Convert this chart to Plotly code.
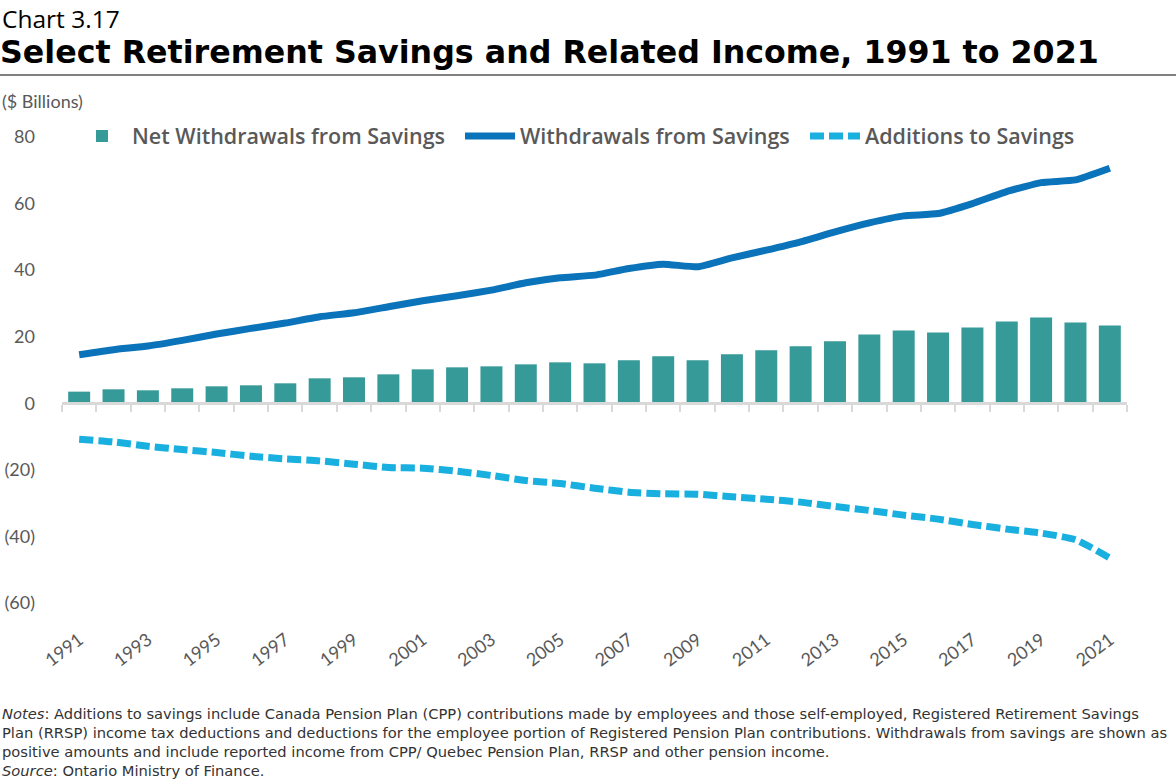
import plotly.graph_objects as go

# data ($ billions)
years = list(range(1991, 2022))
net_withdrawals = [3.5, 4.2, 3.9, 4.5, 5.1, 5.4, 6.0, 7.5, 7.8, 8.7,
                   10.2, 10.8, 11.1, 11.7, 12.3, 12.0, 12.9, 14.1, 12.9, 14.7,
                   15.9, 17.1, 18.6, 20.7, 21.9, 21.3, 22.8, 24.6, 25.8, 24.3, 23.4]
withdrawals = [14.6, 16.1, 17.2, 18.9, 20.8, 22.5, 24.1, 26.0, 27.2, 29.0,
               30.8, 32.3, 34.0, 36.2, 37.7, 38.5, 40.5, 41.8, 41.0, 43.7,
               46.0, 48.5, 51.5, 54.2, 56.3, 57.0, 60.0, 63.6, 66.3, 67.1, 70.6]
additions = [-10.8, -11.6, -12.9, -13.9, -14.8, -15.9, -16.7, -17.3, -18.3, -19.3,
             -19.5, -20.4, -21.7, -23.2, -24.1, -25.5, -26.7, -27.2, -27.3, -28.1,
             -28.8, -29.7, -31.0, -32.2, -33.6, -34.8, -36.4, -37.8, -39.0, -41.0, -46.5]

y_ticks = [-60, -40, -20, 0, 20, 40, 60, 80]
y_labels = ['(60)', '(40)', '(20)', '0', '20', '40', '60', '80']
label_years = years[::2]

W, H = 1176, 783
L, R, T, B = 62, 49, 137, 180
pw, ph = W - L - R, H - T - B


def px2x(px):
    return (px - L) / pw


def py2y(py):
    return (H - B - py) / ph


gray = '#595959'
font = 'Lato'
wide = 'Open Sans'

fig = go.Figure()

fig.add_trace(go.Bar(
    x=years, y=net_withdrawals, name='Net Withdrawals from Savings',
    marker=dict(color='#369A99', line=dict(width=0)), legend='legend',
))
fig.add_trace(go.Scatter(
    x=years, y=withdrawals, name='Withdrawals from Savings', mode='lines',
    line=dict(color='#0A73B9', width=7, shape='spline', smoothing=0.4),
    legend='legend2',
))
fig.add_trace(go.Scatter(
    x=years, y=additions, name='Additions to Savings', mode='lines',
    line=dict(color='#19B0E0', width=7, dash='14px,5px', shape='spline', smoothing=0.6),
    legend='legend3',
))
# carrier trace for the bottom label axis
fig.add_trace(go.Scatter(
    x=years, y=[None] * len(years), xaxis='x2', mode='lines',
    showlegend=False, hoverinfo='skip',
))

xr = [years[0] - 0.5, years[-1] + 0.5]


def legend_at(px):
    return dict(
        orientation='h', xref='container', yref='container',
        x=px / W, y=1 - 136 / H, xanchor='left', yanchor='middle',
        font=dict(family=wide, size=21.5, color=gray, weight=600),
        bgcolor='rgba(0,0,0,0)', itemwidth=50,
    )


fig.update_layout(
    width=W, height=H,
    margin=dict(l=L, r=R, t=T, b=B, autoexpand=False),
    paper_bgcolor='white', plot_bgcolor='white',
    font=dict(family=font, color=gray, size=18),
    bargap=0.36,
    showlegend=True,
    legend=legend_at(72),
    legend2=legend_at(460),
    legend3=legend_at(805),
    xaxis=dict(
        range=xr, anchor='free', position=-y_ticks[0] / (y_ticks[-1] - y_ticks[0]),
        showline=True, linecolor='#D9D9D9', linewidth=3,
        tickmode='array', tickvals=[y - 0.5 for y in years] + [years[-1] + 0.5],
        ticks='outside', ticklen=7, tickwidth=2, tickcolor='#D9D9D9',
        showticklabels=False, showgrid=False, zeroline=False,
    ),
    xaxis2=dict(
        range=xr, overlaying='x', anchor='y', side='bottom',
        tickmode='array', tickvals=label_years, ticktext=[str(y) for y in label_years],
        tickangle=-37, showline=False, ticks='', showgrid=False, zeroline=False,
        ticklabelstandoff=22,
        tickfont=dict(family=font, size=18, color=gray),
    ),
    yaxis=dict(
        range=[y_ticks[0], y_ticks[-1]],
        tickmode='array', tickvals=y_ticks, ticktext=y_labels,
        showgrid=False, zeroline=False, showline=False, ticks='',
        ticklabelstandoff=26,
        tickfont=dict(family=font, size=18, color=gray),
    ),
)

fig.add_annotation(
    text='Chart 3.17', xref='paper', yref='paper',
    x=px2x(0), y=py2y(18), xanchor='left', yanchor='middle', showarrow=False,
    font=dict(family=wide, size=24.5, color='black'),
)
fig.add_annotation(
    text='<b>Select Retirement Savings and Related Income, 1991 to 2021</b>',
    xref='paper', yref='paper',
    x=px2x(-2), y=py2y(52), xanchor='left', yanchor='middle', showarrow=False,
    font=dict(family='DejaVu Sans', size=31.7, color='black'),
)
fig.add_shape(
    type='line', xref='paper', yref='paper',
    x0=px2x(0), x1=px2x(W), y0=py2y(75), y1=py2y(75),
    line=dict(color='black', width=1),
)
fig.add_annotation(
    text='($ Billions)', xref='paper', yref='paper',
    x=px2x(0), y=py2y(101), xanchor='left', yanchor='middle', showarrow=False,
    font=dict(family=font, size=18, color=gray),
)

notes = ('<i>Notes</i>: Additions to savings include Canada Pension Plan (CPP) contributions made by employees and those self-employed, Registered Retirement Savings<br>'
         'Plan (RRSP) income tax deductions and deductions for the employee portion of Registered Pension Plan contributions. Withdrawals from savings are shown as<br>'
         'positive amounts and include reported income from CPP/ Quebec Pension Plan, RRSP and other pension income.<br>'
         '<i>Source</i>: Ontario Ministry of Finance.')
fig.add_annotation(
    text=notes, xref='paper', yref='paper',
    x=px2x(0), y=py2y(703), xanchor='left', yanchor='top', align='left',
    showarrow=False,
    font=dict(family='DejaVu Sans', size=14.7, color='#333333'),
)

fig.write_html('out.html', config={'displayModeBar': False},
               post_script="document.body.style.margin='0px';")
